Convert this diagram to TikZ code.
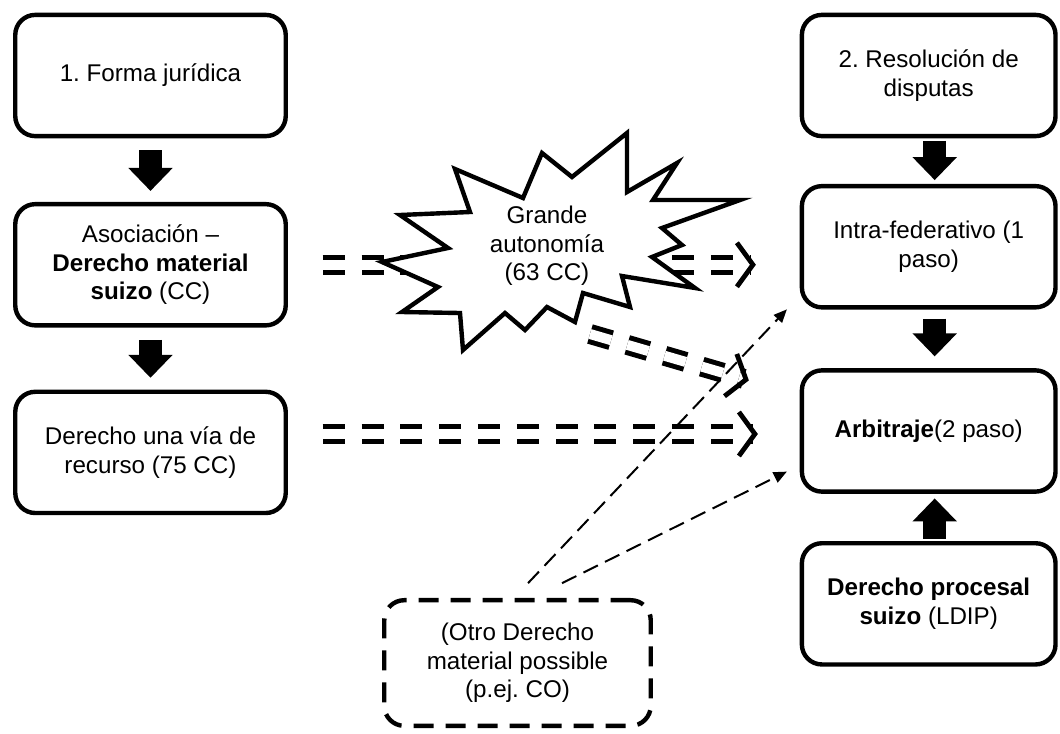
\documentclass[tikz,border=0pt]{standalone}
\usepackage{fontspec}
\setmainfont{Liberation Sans}
\usetikzlibrary{positioning, calc, arrows.meta}

\begin{document}
\frenchspacing
\begin{tikzpicture}[x = 0.025cm, y = -0.025cm, node distance = 1.7cm]
            \tikzset{every node/.style = {font = \fontsize{17.2}{20.2}\selectfont}}
            \tikzstyle{stage} = [draw=black, line width=0.11cm, rounded corners=0.5cm, align=center, outer sep=0pt, inner sep=2pt, minimum width=6.76cm, minimum height=3.03cm]
            \tikzstyle{rstage} = [stage, minimum width=6.34cm]
            \tikzstyle{otherstage} = [stage, dash pattern=on 0.5cm off 0.3cm, minimum width=6.66cm, minimum height=3.14cm]
            \tikzstyle{blockarrow} = [line width=0.575cm, -{Triangle[length=0.575cm, width=1.075cm]}]
            \tikzstyle{doublelink} = [line width=0.125cm, double distance=0.25cm, dash pattern=on 0.55cm off 0.42cm, -{Straight Barb[line width=0.12cm, length=0.4cm, width=1.1cm]}]
            \tikzstyle{dashlink} = [line width=0.05cm, dash pattern=on 0.4cm off 0.2cm, -{Triangle[length=0.33cm, width=0.28cm]}]
            \useasboundingbox (0,0) rectangle (1060,733);

            \node [stage] (forma) at (150.5,75.5) {1. Forma jurídica};
            \node [stage, below = of forma] (asoc) {Asociación –\\\textbf{Derecho material}\\\textbf{suizo} (CC)};
            \node [stage, below = 1.66cm of asoc] (recurso) {Derecho una vía de\\recurso (75 CC)};

            \node [rstage, right = 12.9cm of forma] (res) {2. Resolución de\\disputas};
            \node [rstage, below = 1.25cm of res] (intra) {Intra-federativo (1\\paso)};
            \node [rstage, below = 1.575cm of intra] (arbi) {\textbf{Arbitraje}(2 paso)};
            \node [rstage, below = 1.29cm of arbi] (proc) {\textbf{Derecho procesal}\\\textbf{suizo} (LDIP)};

            \node [otherstage] (otro) at (517.5,663) {(Otro Derecho\\material possible\\(p.ej. CO)};

            \draw [blockarrow, shorten <=0.35cm, shorten >=0.33cm] (forma) to (asoc);
            \draw [blockarrow, shorten <=0.36cm, shorten >=0.35cm] (asoc) to (recurso);
            \draw [blockarrow, shorten <=0.12cm, shorten >=0.15cm] ([xshift=0.15cm]res.south) to ([xshift=0.15cm]intra.north);
            \draw [blockarrow, shorten <=0.28cm, shorten >=0.35cm] ([xshift=0.15cm]intra.south) to ([xshift=0.15cm]arbi.north);
            \draw [blockarrow, shorten <=0.11cm, shorten >=0.17cm] ([xshift=0.15cm]proc.north) to ([xshift=0.15cm]arbi.south);

            \draw [doublelink] ($(asoc.east)+(37,0)$) to ($(asoc.east -| intra.west)+(-46,0)$);
            \draw [doublelink] ($(recurso.east |- arbi.west)+(37,3)$) to ($(arbi.west)+(-44,3)$);

            % starburst
            \draw [line width=0.11cm, fill=white, line join=miter] (382,262) -- (448,248) -- (400,215) -- (470,212) -- (455,169) -- (523,198) -- (542,153) -- (572,177) -- (627,133) -- (627,192) -- (677,163) -- (653,200) -- (740,200) -- (662,228) -- (682,245) -- (652,257) -- (695,288) -- (622,276) -- (630,307) -- (583,293) -- (575,322) -- (547,307) -- (525,330) -- (505,313) -- (463,350) -- (460,313) -- (402,312) -- (438,287) -- cycle;
            \node [align=center] (burst) at (547,246) {Grande\\autonomía\\(63 CC)};
            \coordinate (burstfoot) at (590,334);

            \draw [doublelink] (burstfoot) to ($(arbi.north west)+(-53,10)$);

            \draw [dashlink] ($(otro.north)+(10.5,-17)$) to ($(intra.south west)+(-15,2)$);
            \draw [dashlink] ($(otro.north)+(44.5,-17)$) to ($(arbi.south west)+(-15,-20)$);
        \end{tikzpicture}
\end{document}
